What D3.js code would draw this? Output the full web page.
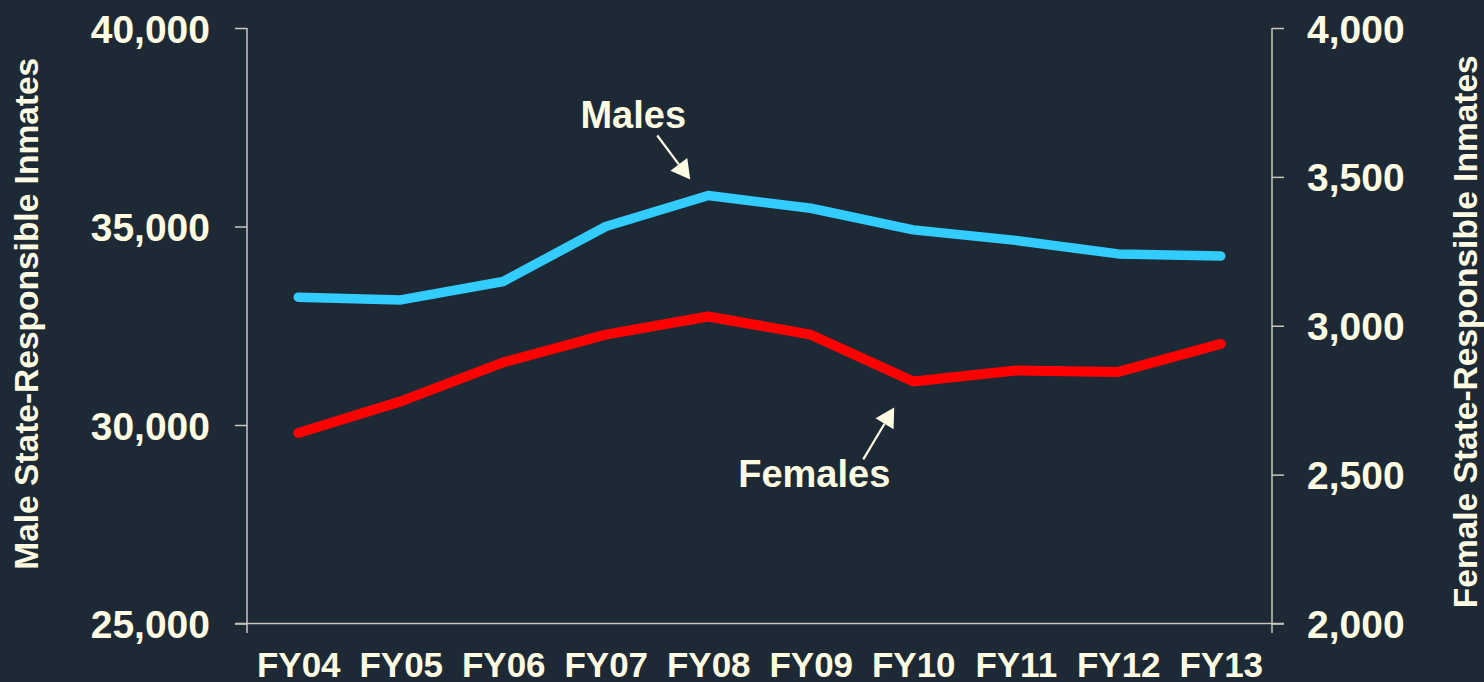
<!DOCTYPE html>
<html>
<head>
<meta charset="utf-8">
<script src="https://cdn.jsdelivr.net/npm/d3@7"></script>
<style>
  html, body { margin: 0; padding: 0; background: #1d2a35; }
  svg { display: block; }
  text { font-family: "Liberation Sans", Arial, sans-serif; font-weight: bold; fill: #fffbe3; }
</style>
</head>
<body>
<svg id="chart" width="1484" height="682"></svg>
<script>
const categories = ["FY04","FY05","FY06","FY07","FY08","FY09","FY10","FY11","FY12","FY13"];
const males   = [33220, 33150, 33615, 35000, 35780, 35460, 34915, 34650, 34310, 34255];
const females = [2640, 2746, 2877, 2970, 3031, 2970, 2813, 2850, 2845, 2939];
const leftTicks  = [25000, 30000, 35000, 40000];
const rightTicks = [2000, 2500, 3000, 3500, 4000];
const leftTitle  = "Male State-Responsible Inmates";
const rightTitle = "Female State-Responsible Inmates";

const W = 1484, H = 682;
const plot = { left: 247, right: 1272, top: 28, bottom: 623.5 };
const cream = "#fffbe3";
const axisColor = "#c9c7bd";

const svg = d3.select("#chart");
svg.append("rect").attr("width", W).attr("height", H).attr("fill", "#1d2a35");

const x = d3.scalePoint().domain(categories).range([plot.left, plot.right]).padding(0.5);
const yL = d3.scaleLinear().domain([25000, 40000]).range([plot.bottom, plot.top]);
const yR = d3.scaleLinear().domain([2000, 4000]).range([plot.bottom, plot.top]);
const fmt = d3.format(",");

// Left axis
const gL = svg.append("g").attr("transform", `translate(${plot.left},0)`)
  .call(d3.axisLeft(yL).tickValues(leftTicks).tickFormat(fmt).tickSize(12).tickSizeOuter(0).tickPadding(25));
gL.select(".domain").remove();
gL.selectAll(".tick line").attr("stroke", axisColor).attr("stroke-width", 1.5);
gL.selectAll(".tick text").attr("font-size", 39).attr("fill", cream)
  .attr("font-family", "Liberation Sans, Arial, sans-serif").attr("font-weight", "bold").attr("dy", "0.36em");
svg.append("line").attr("x1", plot.left).attr("x2", plot.left)
  .attr("y1", yL(40000)).attr("y2", yL(25000) + 9.5)
  .attr("stroke", axisColor).attr("stroke-width", 1.5);

// Right axis
const gR = svg.append("g").attr("transform", `translate(${plot.right},0)`)
  .call(d3.axisRight(yR).tickValues(rightTicks).tickFormat(fmt).tickSize(12).tickSizeOuter(0).tickPadding(23));
gR.select(".domain").remove();
gR.selectAll(".tick line").attr("stroke", axisColor).attr("stroke-width", 1.5);
gR.selectAll(".tick text").attr("font-size", 39).attr("fill", cream)
  .attr("font-family", "Liberation Sans, Arial, sans-serif").attr("font-weight", "bold").attr("dy", "0.36em");
svg.append("line").attr("x1", plot.right).attr("x2", plot.right)
  .attr("y1", yR(4000)).attr("y2", yR(2000) + 9.5)
  .attr("stroke", axisColor).attr("stroke-width", 1.5);

// Bottom axis
const gB = svg.append("g").attr("transform", `translate(0,${plot.bottom})`)
  .call(d3.axisBottom(x).tickSize(0).tickPadding(0));
gB.select(".domain").remove();
gB.selectAll(".tick text").attr("font-size", 35).attr("fill", cream)
  .attr("font-family", "Liberation Sans, Arial, sans-serif").attr("font-weight", "bold")
  .attr("dy", null).attr("y", 53);
svg.append("line").attr("x1", plot.left - 12).attr("x2", plot.right + 12)
  .attr("y1", plot.bottom).attr("y2", plot.bottom)
  .attr("stroke", axisColor).attr("stroke-width", 1.5);

// Axis titles
svg.append("text").attr("transform", `translate(38,${(plot.top + plot.bottom) / 2 - 12}) rotate(-90)`)
  .attr("text-anchor", "middle").attr("font-size", 33.5).text(leftTitle);
svg.append("text").attr("transform", `translate(1477,${(plot.top + plot.bottom) / 2 + 6}) rotate(-90)`)
  .attr("text-anchor", "middle").attr("font-size", 33.5).text(rightTitle);

// Lines
const lineM = d3.line().x((d, i) => x(categories[i])).y(d => yL(d));
const lineF = d3.line().x((d, i) => x(categories[i])).y(d => yR(d));
svg.append("path").datum(males).attr("d", lineM).attr("fill", "none")
  .attr("stroke", "#33ccff").attr("stroke-width", 9.5)
  .attr("stroke-linecap", "round").attr("stroke-linejoin", "round");
svg.append("path").datum(females).attr("d", lineF).attr("fill", "none")
  .attr("stroke", "#ff0000").attr("stroke-width", 10)
  .attr("stroke-linecap", "round").attr("stroke-linejoin", "round");

// Annotations
function arrow(x1, y1, x2, y2) {
  const ang = Math.atan2(y2 - y1, x2 - x1);
  const len = 19, half = 10.5;
  const bx = x2 - len * Math.cos(ang), by = y2 - len * Math.sin(ang);
  svg.append("line").attr("x1", x1).attr("y1", y1).attr("x2", bx).attr("y2", by)
    .attr("stroke", cream).attr("stroke-width", 2.2);
  const px = -Math.sin(ang) * half, py = Math.cos(ang) * half;
  svg.append("path")
    .attr("d", `M${x2},${y2}L${bx + px},${by + py}L${bx - px},${by - py}Z`)
    .attr("fill", cream);
}
const mx = x("FY08"), my = yL(males[4]);
svg.append("text").attr("x", mx - 75).attr("y", my - 68).attr("text-anchor", "middle")
  .attr("font-size", 38).text("Males");
arrow(mx - 51, my - 60, mx - 18, my - 16);

const fx = x("FY10"), fy = yR(females[6]);
svg.append("text").attr("x", fx - 99).attr("y", fy + 106).attr("text-anchor", "middle")
  .attr("font-size", 38).text("Females");
arrow(fx - 50, fy + 78, fx - 19, fy + 26);
</script>
</body>
</html>
